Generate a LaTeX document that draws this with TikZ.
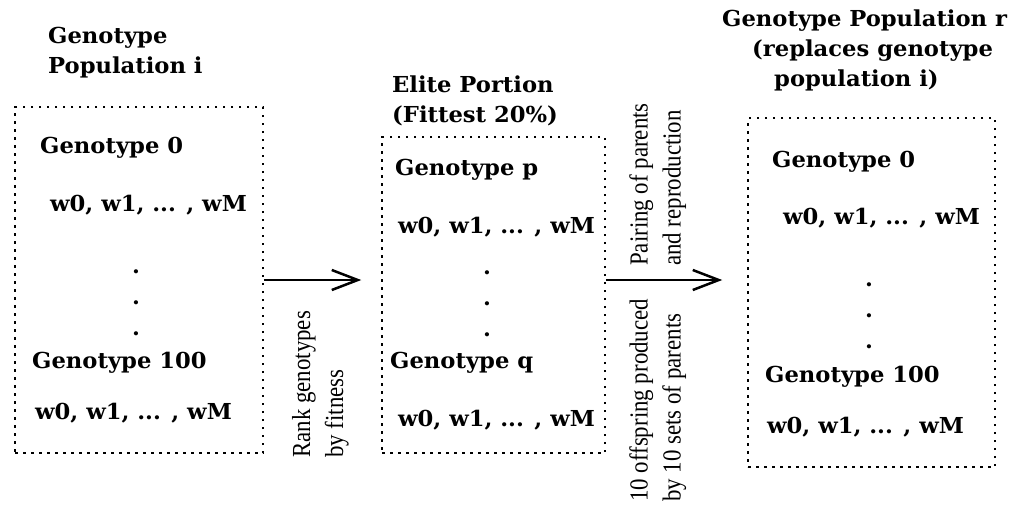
\documentclass[tikz,border=0pt]{standalone}
\usepackage{fontspec}
\newfontfamily\boxfont{DejaVu Serif}[FakeStretch=1.03]
\newfontfamily\notefont{Liberation Serif}[FakeStretch=0.88]
\usetikzlibrary{arrows.meta}

\begin{document}
\begin{tikzpicture}[x=1pt,y=-1pt]
% Styles
 \tikzstyle{popbox}=[rectangle,draw,line width=1.5pt,dash pattern=on 2.5pt off 5.5pt,inner sep=0pt]
 \tikzstyle{gene}=[inner sep=0pt,anchor=west,font=\boxfont\bfseries\fontsize{22}{30}\selectfont]
 \tikzstyle{heading}=[gene,align=left]
 \tikzstyle{dots}=[gene,anchor=center,align=center,font=\boxfont\bfseries\fontsize{22}{31}\selectfont]
 \tikzstyle{operation}=[line width=2.5pt,-{Straight Barb[length=26pt,width=20pt]}]
 \tikzstyle{remark}=[inner sep=0pt,anchor=north west,rotate=90,align=left,font=\notefont\fontsize{26}{33}\selectfont]
 \useasboundingbox (0,0) rectangle (1018,504);
% Population i
 \node[heading] (titlei) at (48,53) {Genotype\\Population i};
 \node[popbox,minimum width=248pt,minimum height=346pt] (pop) at (139,280) {};
 \node[gene] (pfirst) at (40,148) {Genotype 0};
 \node[gene] (pfirstw) at (50,205) {w0, w1, ... , wM};
 \node[dots] (pdots) at (136,303) {.\\.\\.};
 \node[gene] (plast) at (32,363) {Genotype 100};
 \node[gene] (plastw) at (35,413) {w0, w1, ... , wM};
% Elite portion
 \node[heading] (titleelite) at (392,101) {Elite Portion\\(Fittest 20\%)};
 \node[popbox,minimum width=223pt,minimum height=316pt] (elite) at (493.5,295) {};
 \node[gene] (efirst) at (395,170) {Genotype p};
 \node[gene] (efirstw) at (398,227) {w0, w1, ... , wM};
 \node[dots] (edots) at (487,304) {.\\.\\.};
 \node[gene] (elast) at (390,363) {Genotype q};
 \node[gene] (elastw) at (398,420) {w0, w1, ... , wM};
% Population r
 \node[heading] (titler) at (722,50) {Genotype Population r\\\hspace*{30pt}(replaces genotype\\\hspace*{52pt}population i)};
 \node[popbox,minimum width=247pt,minimum height=349pt] (newpop) at (871.5,292.5) {};
 \node[gene] (rfirst) at (772,162) {Genotype 0};
 \node[gene] (rfirstw) at (783,218) {w0, w1, ... , wM};
 \node[dots] (rdots) at (869,316) {.\\.\\.};
 \node[gene] (rlast) at (765,377) {Genotype 100};
 \node[gene] (rlastw) at (767,427) {w0, w1, ... , wM};
% Arrows and remarks
 \draw[operation,shorten >=20pt] (pop.east) -- (pop.east -| elite.west);
 \node[remark] (rank) at (292,458) {Rank genotypes\\by fitness};
 \draw[operation,shorten >=25pt] (elite.east |- pop.east) -- (pop.east -| newpop.west);
 \node[remark] (pairing) at (629,266) {Pairing of parents\\and reproduction};
 \node[remark] (offspring) at (629,502) {10 offspring produced\\by 10 sets of parents};
\end{tikzpicture}
\end{document}
